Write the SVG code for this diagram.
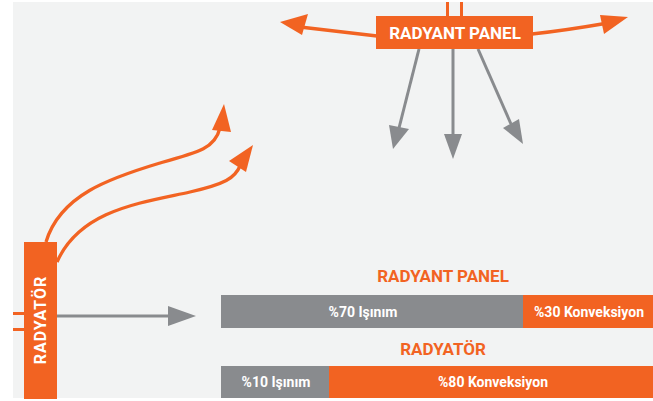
<svg xmlns="http://www.w3.org/2000/svg" width="653" height="401" viewBox="0 0 653 401">
<style>
.or{fill:#f26322}
.gr{fill:#898b8e}
.ol{fill:none;stroke:#f26322;stroke-width:3.3}
.gl{fill:none;stroke:#898b8e;stroke-width:3}
.t{font-family:Roboto,"Liberation Sans",sans-serif;font-weight:700;text-anchor:middle}
.w{fill:#ffffff}
</style>
<rect x="0" y="0" width="653" height="401" fill="#ffffff"/>
<rect x="13" y="2" width="640" height="396" fill="#f2f3f3"/>
<g id="connectors">
  <path class="ol" d="M46,242 C60,195 110,178 160,163 C200,152 215,148 220,128"/>
  <polygon class="or" points="224,104 231,132 212,130"/>
  <path class="ol" d="M57,262 C80,210 140,203 190,192 C225,184 235,178 240,166"/>
  <polygon class="or" points="253,145 246,172 229,161"/>
  <path class="ol" d="M377,36 C350,33 325,30 300,27"/>
  <polygon class="or" points="280,22 308,14 302,35"/>
  <path class="ol" d="M532,34 C560,31 585,27 608,23"/>
  <polygon class="or" points="628,17 600,15 604,34"/>
  <line class="gl" x1="419" y1="49" x2="399" y2="128"/>
  <polygon class="gr" points="393,149 389,125 409,129"/>
  <line class="gl" x1="453" y1="49" x2="453" y2="137"/>
  <polygon class="gr" points="453,159 444,134 462,134"/>
  <line class="gl" x1="478" y1="49" x2="511" y2="124"/>
  <polygon class="gr" points="523,144 503,128 519,119"/>
  <line class="gl" x1="57" y1="316" x2="170" y2="316"/>
  <polygon class="gr" points="196,316 168,306 168,326"/>
</g>
<g id="radyant-panel">
  <rect class="or" x="446" y="2" width="3" height="15"/>
  <rect class="or" x="460" y="2" width="3" height="15"/>
  <rect class="or" x="376" y="16" width="157" height="33"/>
  <text class="t w" x="455" y="39" font-size="17">RADYANT PANEL</text>
</g>
<g id="radyator">
  <rect class="or" x="13" y="312" width="12" height="3"/>
  <rect class="or" x="13" y="328" width="12" height="3"/>
  <rect class="or" x="24" y="242" width="33" height="157"/>
  <text class="t w" transform="translate(46,320) rotate(-90)" font-size="16" letter-spacing="1">RADYATÖR</text>
</g>
<g id="bar-panel">
  <text class="t or" x="443" y="282" font-size="17">RADYANT PANEL</text>
  <rect class="gr" x="221" y="295" width="302" height="33"/>
  <rect class="or" x="523" y="295" width="130" height="33"/>
  <text class="t w" x="363" y="317" font-size="14">%70 Işınım</text>
  <text class="t w" x="589" y="317" font-size="14">%30 Konveksiyon</text>
</g>
<g id="bar-radyator">
  <text class="t or" x="443" y="355" font-size="17">RADYATÖR</text>
  <rect class="gr" x="221" y="366" width="108" height="32"/>
  <rect class="or" x="329" y="366" width="324" height="32"/>
  <text class="t w" x="276" y="387" font-size="14">%10 Işınım</text>
  <text class="t w" x="493" y="387" font-size="14">%80 Konveksiyon</text>
</g>
</svg>
